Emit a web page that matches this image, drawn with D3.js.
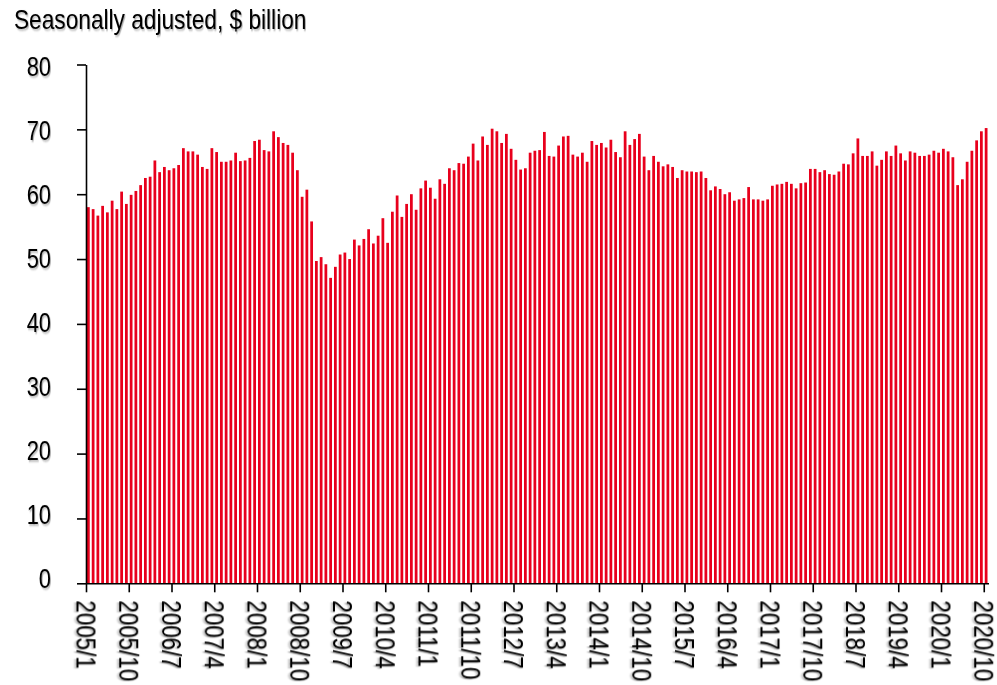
<!DOCTYPE html>
<html>
<head>
<meta charset="utf-8">
<script src="https://cdn.jsdelivr.net/npm/d3@7"></script>
<style>
  html, body { margin: 0; padding: 0; background: #ffffff; }
  svg { display: block; }
  text { font-family: "Liberation Sans", Arial, sans-serif; fill: #000; }
</style>
</head>
<body>
<svg id="chart" width="997" height="685"></svg>
<script>
// ---- Data ----
const startYear = 2005;
const values = [
  58.0, 57.7, 56.7, 58.2, 57.2, 59.0, 57.7, 60.4, 58.5, 59.9, 60.5, 61.4,
  62.5, 62.7, 65.2, 63.4, 64.2, 63.7, 64.0, 64.5, 67.1, 66.6, 66.6, 66.1,
  64.2, 63.9, 67.1, 66.5, 65.0, 65.0, 65.2, 66.4, 65.1, 65.2, 65.6, 68.2,
  68.4, 66.8, 66.6, 69.7, 68.8, 67.9, 67.6, 66.4, 63.7, 59.6, 60.7,
  55.8, 49.7, 50.3, 49.2, 47.1, 48.8, 50.7, 51.0, 50.0, 53.0, 52.1, 53.1,
  54.6, 52.4, 53.6, 56.3, 52.5, 57.3, 59.8, 56.5, 58.5, 60.0, 57.6, 60.9,
  62.1, 61.0, 59.3, 62.3, 61.6, 64.0, 63.7, 64.8, 64.7, 65.8, 67.8, 65.2,
  68.9, 67.6, 70.1, 69.7, 67.9, 69.3, 67.0, 65.3, 63.8, 64.0, 66.4,
  66.7, 66.8, 69.6, 65.9, 65.8, 67.5, 68.9, 69.0, 66.1, 65.8, 66.4, 65.0,
  68.2, 67.6, 67.9, 67.2, 68.4, 66.5, 65.7, 69.7, 67.6, 68.5, 69.3, 65.8,
  63.7, 65.9, 65.0, 64.3, 64.6, 64.2, 62.5, 63.7, 63.5, 63.5, 63.4, 63.5,
  62.5, 60.6, 61.2, 60.8, 60.0, 60.3, 59.0, 59.2, 59.4, 61.1,
  59.2, 59.2, 59.0, 59.2, 61.3, 61.5, 61.6, 61.9, 61.6, 60.9, 61.7, 61.8,
  63.9, 63.9, 63.4, 63.7, 63.1, 63.0, 63.5, 64.7, 64.6, 66.3, 68.6, 65.9,
  65.9, 66.6, 64.4, 65.3, 66.6, 65.9, 67.5, 66.3, 65.2, 66.6, 66.4, 65.9,
  65.9, 66.1, 66.7, 66.4, 67.0, 66.6, 65.7, 61.4, 62.3, 65.0, 66.7, 68.3,
  69.7, 70.2
];
const categories = values.map((v, i) => `${startYear + Math.floor(i / 12)}/${(i % 12) + 1}`);
const tickLabels = [
  "2005/1", "2005/10", "2006/7", "2007/4", "2008/1", "2008/10", "2009/7",
  "2010/4", "2011/1", "2011/10", "2012/7", "2013/4", "2014/1", "2014/10",
  "2015/7", "2016/4", "2017/1", "2017/10", "2018/7", "2019/4", "2020/1", "2020/10"
];
const yTicks = [0, 10, 20, 30, 40, 50, 60, 70, 80];
const titleText = "Seasonally adjusted, $ billion";

// ---- Layout ----
const svg = d3.select("#chart");
const plotLeft = 86, plotRight = 988.5, plotTop = 64.5, plotBottom = 583.3;

const defs = svg.append("defs");
const f = defs.append("filter").attr("id", "shadow")
  .attr("x", "-10%").attr("y", "-10%").attr("width", "130%").attr("height", "130%");
f.append("feDropShadow").attr("dx", 1.2).attr("dy", 1.5).attr("stdDeviation", 0.9)
  .attr("flood-color", "#000").attr("flood-opacity", 0.35);

const x = d3.scaleBand().domain(categories).range([plotLeft, plotRight]).paddingInner(0.42).paddingOuter(0.21);
const xPos = d3.scaleLinear().domain([0, categories.length]).range([plotLeft, plotRight]);
const y = d3.scaleLinear().domain([0, 80]).range([plotBottom, plotTop]);

// Bars
svg.append("g").selectAll("rect")
  .data(values)
  .join("rect")
  .attr("x", (d, i) => x(categories[i]))
  .attr("width", x.bandwidth())
  .attr("y", d => y(d))
  .attr("height", d => y(0) - y(d))
  .attr("fill", "#e8001c");

// Y axis
const yAxis = svg.append("g")
  .attr("transform", `translate(${plotLeft},0)`)
  .call(d3.axisLeft(y).tickValues(yTicks).tickSize(9).tickSizeOuter(0).tickFormat(d3.format("d")));
yAxis.select(".domain").attr("stroke", "#000").attr("stroke-width", 1.6);
yAxis.selectAll(".tick line").attr("stroke", "#000").attr("stroke-width", 1.6);
yAxis.selectAll(".tick text")
  .attr("x", 0).attr("dy", null)
  .attr("font-size", 28)
  .attr("text-anchor", "end")
  .attr("filter", "url(#shadow)")
  .attr("transform", d => `translate(-35,${1 - 6.6 * (80 - d) / 80 + 10}) scale(0.78,1)`);

// X axis
const tickIdx = tickLabels.map((t, k) => k * 9);
const xAxis = svg.append("g")
  .attr("transform", `translate(0,${plotBottom})`)
  .call(d3.axisBottom(xPos).tickValues(tickIdx).tickSize(9).tickSizeOuter(0)
    .tickFormat((d, k) => tickLabels[k]));
xAxis.select(".domain").attr("stroke", "#000").attr("stroke-width", 1.6);
xAxis.selectAll(".tick line").attr("stroke", "#000").attr("stroke-width", 1.6);
xAxis.selectAll(".tick text")
  .attr("x", 0).attr("y", 0).attr("dy", "0.35em")
  .attr("font-size", 28)
  .attr("text-anchor", "start")
  .attr("filter", "url(#shadow)")
  .attr("transform", "translate(0,17) rotate(90) scale(0.8,1)");

// Title
svg.append("text")
  .attr("transform", "translate(14,29) scale(0.81,1)")
  .attr("font-size", 28)
  .attr("filter", "url(#shadow)")
  .text(titleText);
</script>
</body>
</html>
